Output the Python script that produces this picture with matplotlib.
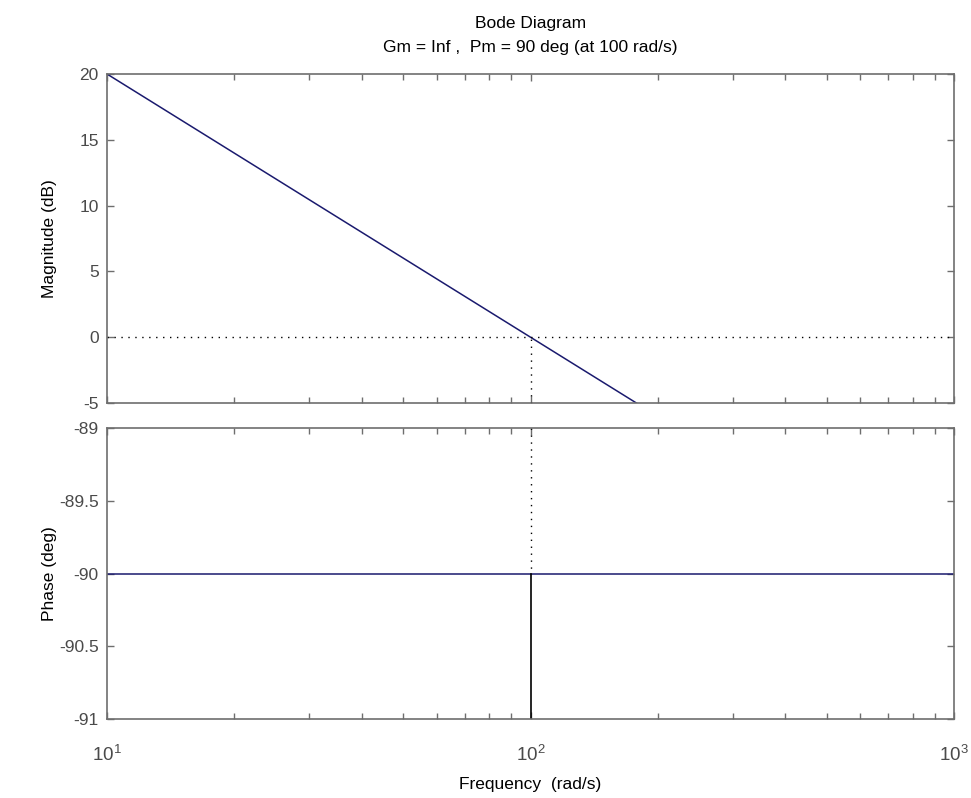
import matplotlib
matplotlib.use("Agg")
import matplotlib.pyplot as plt
from matplotlib.ticker import LogLocator, NullFormatter

# Respuesta en frecuencia de un integrador K/s (K = 100)
freq = [10, 100, 1000]          # rad/s
mag_db = [20, 0, -20]           # dB
phase_deg = [-90, -90, -90]     # deg

# Márgenes
wc = 100          # frecuencia de cruce (rad/s)
pm = 90           # margen de fase (deg)

mag_ticks = [-5, 0, 5, 10, 15, 20]
phase_ticks = [-91, -90.5, -90, -89.5, -89]
phase_labels = ["-91", "-90.5", "-90", "-89.5", "-89"]
freq_ticks = [10, 100, 1000]
freq_labels = ["$10^{1}$", "$10^{2}$", "$10^{3}$"]

plt.rcParams["font.family"] = ["Liberation Sans", "DejaVu Sans"]
plt.rcParams["mathtext.fontset"] = "custom"
plt.rcParams["mathtext.rm"] = "Liberation Sans"
plt.rcParams["mathtext.it"] = "Liberation Sans"
plt.rcParams["axes.unicode_minus"] = False

line_col = "#1a1a6e"
spine_col = "#6e6e6e"
tick_col = "#4a4a4a"

fig = plt.figure(figsize=(9.71, 7.98), dpi=100)
W, H = 971, 798
left, right = 107 / W, 954 / W
ax1 = fig.add_axes([left, 1 - 403 / H, right - left, (403 - 74) / H])
ax2 = fig.add_axes([left, 1 - 719 / H, right - left, (719 - 428) / H])

# Magnitud
ax1.plot(freq, mag_db, color=line_col, lw=1.1)
ax1.axhline(0, color="black", ls=(0, (1, 4)), lw=1)
ax1.plot([wc, wc], [-5, 0], color="black", ls=(0, (1, 4)), lw=1)
ax1.set_ylim(-5, 20)
ax1.set_yticks(mag_ticks)
ax1.set_ylabel("Magnitude (dB)", fontsize=12.5)

# Fase
ax2.plot(freq, phase_deg, color=line_col, lw=1.1)
ax2.plot([wc, wc], [-89, -90], color="black", ls=(0, (1, 4)), lw=1)
ax2.plot([wc, wc], [-90, -91], color="black", lw=1.2)
ax2.set_ylim(-91, -89)
ax2.set_yticks(phase_ticks)
ax2.set_yticklabels(phase_labels)
ax2.set_ylabel("Phase (deg)", fontsize=12.5)
ax2.set_xlabel("Frequency  (rad/s)", fontsize=12.5)

for ax in (ax1, ax2):
    ax.set_xscale("log")
    ax.set_xlim(10, 1000)
    ax.set_xticks(freq_ticks)
    ax.xaxis.set_minor_locator(LogLocator(base=10, subs=range(2, 10), numticks=10))
    ax.xaxis.set_minor_formatter(NullFormatter())
    ax.tick_params(which="both", direction="in", top=True, right=True,
                   colors=spine_col, labelcolor=tick_col, labelsize=12.5)
    ax.tick_params(which="major", length=5, width=1)
    ax.tick_params(which="minor", length=4, width=1)
    ax.tick_params(axis="y", pad=6)
    ax.tick_params(axis="x", pad=19)
    ax.yaxis.set_label_coords(-0.059, 0.5)
    for s in ax.spines.values():
        s.set_color(spine_col)
        s.set_linewidth(1.2)

ax1.xaxis.set_major_formatter(NullFormatter())
ax2.set_xticklabels(freq_labels, fontsize=13.5)
ax2.xaxis.set_label_coords(0.5, -0.2)

ax1.set_title("Bode Diagram\nGm = Inf ,  Pm = %d deg (at %d rad/s)" % (pm, wc),
              fontsize=12.5, pad=16, linespacing=1.7)

fig.savefig("out.png", dpi=100)
